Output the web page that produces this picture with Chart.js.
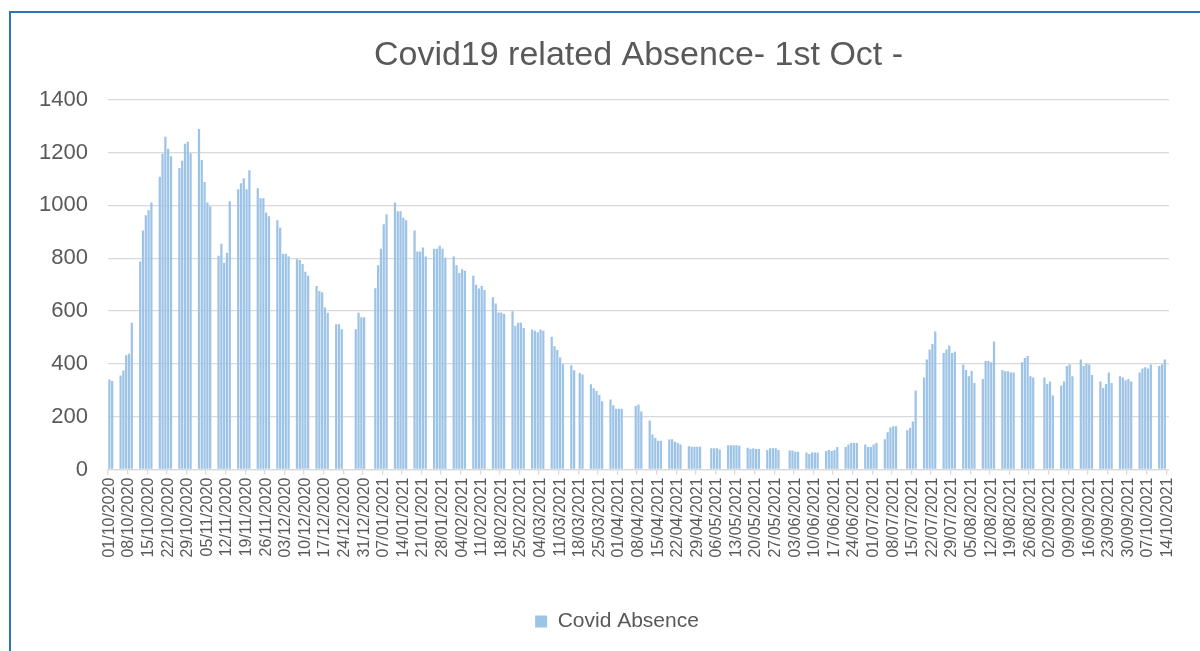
<!DOCTYPE html>
<html>
<head>
<meta charset="utf-8">
<title>Covid19 related Absence</title>
<script src="https://cdn.jsdelivr.net/npm/chart.js@4.4.1/dist/chart.umd.min.js"></script>
<style>
  html, body { margin: 0; padding: 0; background: #fff; overflow: hidden; }
  #wrap { position: relative; width: 1200px; height: 651px; overflow: hidden; }
  #frame { position: absolute; left: 9px; top: 11px; width: 1300px; height: 700px;
           border-left: 2px solid #2e75b6; border-top: 2px solid #2e75b6; }
  canvas { position: absolute; left: 0; top: 0; }
</style>
</head>
<body>
<div id="wrap">
  <div id="frame"></div>
  <canvas id="absenceChart" width="1234" height="651"></canvas>
</div>
<script>
// Eje X: un dia por categoria, del 01/10/2020 al 14/10/2021
const primerDia = Date.UTC(2020, 9, 1);
const totalDias = 379;
const dias = [];
for (let i = 0; i < totalDias; i++) {
    const d = new Date(primerDia + i * 86400000);
    const dd = String(d.getUTCDate()).padStart(2, '0');
    const mm = String(d.getUTCMonth() + 1).padStart(2, '0');
    dias.push(dd + '/' + mm + '/' + d.getUTCFullYear());
}

// una etiqueta cada 7 dias
const pasoEtiqueta = 7;

// Ausencias por dia (filas de jueves a miercoles; null = fin de semana / festivo)
const ausencias = [
    341, 335, null, null, 356, 375, 433,
    438, 556, null, null, 788, 905, 963,
    982, 1011, null, null, 1109, 1196, 1260,
    1215, 1186, null, null, 1142, 1169, 1234,
    1241, 1198, null, null, 1289, 1172, 1089,
    1011, 996, null, null, 809, 855, 783,
    821, 1016, null, null, 1061, 1084, 1103,
    1061, 1133, null, null, 1065, 1027, 1027,
    973, 959, null, null, 944, 915, 817,
    817, 807, null, null, 796, 793, 778,
    749, 734, null, null, 695, 676, 671,
    613, 594, null, null, 550, 550, 531,
    null, null, null, null, 531, 594, 577,
    577, null, null, null, 686, 773, 836,
    929, 967, null, null, 1011, 978, 978,
    953, 944, null, null, 905, 826, 826,
    841, 807, null, null, 836, 836, 847,
    836, 802, null, null, 807, 773, 744,
    758, 753, null, null, 734, 700, 685,
    695, 680, null, null, 652, 629, 595,
    595, 589, null, null, 599, 544, 556,
    556, 536, null, null, 530, 525, 520,
    530, 525, null, null, 503, 467, 453,
    424, 399, null, null, 395, 376, null,
    365, 360, null, null, 323, 308, 297,
    282, 258, null, null, 265, 243, 230,
    230, 230, null, null, null, null, 240,
    246, 220, null, null, 186, 133, 119,
    109, 109, null, null, 114, 115, 105,
    100, 95, null, null, 88, 86, 86,
    86, 86, null, null, null, 80, 80,
    80, 76, null, null, 92, 92, 92,
    92, 90, null, null, 82, 78, 80,
    78, 78, null, null, 74, 80, 80,
    80, 74, null, null, null, 72, 72,
    67, 67, null, null, 64, 59, 64,
    64, 64, null, null, 70, 74, 70,
    74, 85, null, null, 85, 95, 100,
    100, 100, null, null, 95, 85, 85,
    95, 100, null, null, 115, 141, 159,
    164, 164, null, null, null, 149, 158,
    182, 299, null, null, 348, 417, 454,
    475, 523, null, null, 441, 454, 470,
    441, 446, null, null, 398, 377, 353,
    373, 328, null, null, 343, 411, 411,
    406, 485, null, null, 377, 372, 372,
    367, 367, null, null, 406, 422, 430,
    353, 348, null, null, null, 348, 324,
    333, 280, null, null, 318, 333, 392,
    398, 353, null, null, 417, 392, 401,
    398, 358, null, null, 333, 309, 324,
    367, 328, null, null, 353, 348, 338,
    343, 333, null, null, 367, 382, 387,
    382, 398, null, null, 392, 398, 417,
    null
];

const gris = '#595959';
const lineaGris = '#d9d9d9';
Chart.defaults.font.family = "'Liberation Sans', Arial, sans-serif";

// la leyenda va centrada sobre todo el recuadro, no sobre el area del canvas visible
const leyendaCentrada = {
    id: 'leyendaCentrada',
    afterLayout(chart) {
        chart.legend.left += 32.5;
        chart.legend.right += 32.5;
    }
};

const ctx = document.getElementById('absenceChart').getContext('2d');
new Chart(ctx, {
    type: 'bar',
    data: {
        labels: dias,
        datasets: [{
            label: 'Covid Absence',
            data: ausencias,
            backgroundColor: '#9dc3e6',
            barPercentage: 0.8,
            categoryPercentage: 1
        }]
    },
    plugins: [leyendaCentrada],
    options: {
        responsive: false,
        animation: false,
        layout: { padding: { top: 0, left: 0, right: 65, bottom: 9 } },
        plugins: {
            title: {
                display: true,
                fullSize: false, // centrado sobre el area del grafico
                text: 'Covid19 related Absence- 1st Oct -',
                color: gris,
                font: { size: 34, weight: 'normal' },
                padding: { top: 35, bottom: 24 }
            },
            legend: {
                position: 'bottom',
                labels: { color: gris, font: { size: 21 }, boxWidth: 12, boxHeight: 12, padding: 10 }
            },
            tooltip: { enabled: false }
        },
        scales: {
            x: {
                grid: {
                    drawOnChartArea: false,
                    tickLength: 5,
                    lineWidth: 1.3,
                    color: c => (c.index % pasoEtiqueta === 0 ? lineaGris : 'rgba(0,0,0,0)')
                },
                border: { color: lineaGris, width: 1.3 },
                ticks: {
                    autoSkip: false,
                    minRotation: 90,
                    maxRotation: 90,
                    padding: 3,
                    color: gris,
                    font: { size: 16 },
                    callback: (v, i) => (i % pasoEtiqueta === 0 ? dias[i] : '')
                },
                afterFit: s => { s.height = 131.5; }
            },
            y: {
                min: 0,
                max: 1400,
                ticks: {
                    stepSize: 200,
                    color: gris,
                    font: { size: 22 },
                    padding: 20,
                    callback: v => String(v)
                },
                grid: { color: lineaGris, lineWidth: 1.3, drawTicks: false },
                border: { display: false },
                afterFit: s => { s.width = 108; }
            }
        }
    }
});
</script>
</body>
</html>
